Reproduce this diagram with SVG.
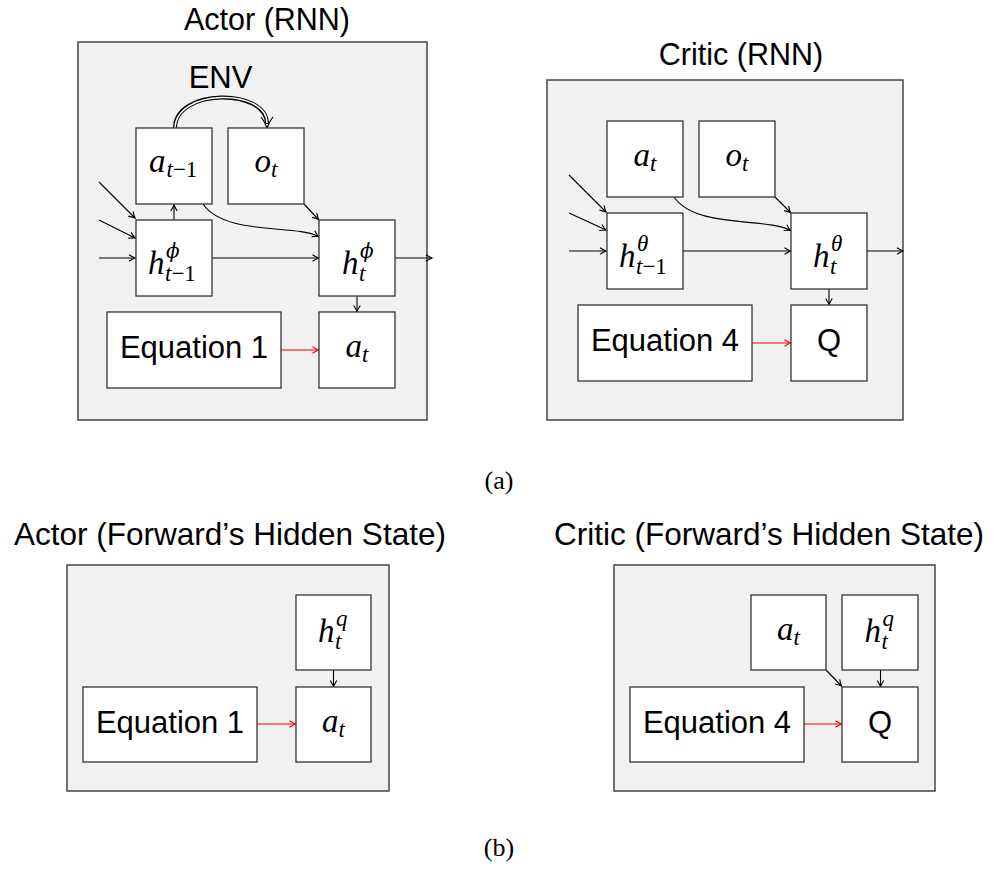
<svg xmlns="http://www.w3.org/2000/svg" width="994" height="871" viewBox="0 0 994 871">
<defs>
<style>
.panel{fill:#f1f1f1;stroke:#444;stroke-width:1.5}
.box{fill:#fff;stroke:#333;stroke-width:1.3}
.title{font-family:"Liberation Sans",Arial,sans-serif;font-size:30.5px;fill:#000;text-anchor:middle}
.ttl2{font-family:"Liberation Sans",Arial,sans-serif;font-size:31.5px;fill:#000;text-anchor:middle}
.lbl{font-family:"Liberation Sans",Arial,sans-serif;font-size:31px;fill:#000;text-anchor:middle}
.cap{font-family:"Liberation Serif","Times New Roman",serif;font-size:26px;fill:#000;text-anchor:middle}
.m{font-family:"Liberation Serif","Times New Roman",serif;font-style:italic;font-size:33px;fill:#000}
.s{font-family:"Liberation Serif","Times New Roman",serif;font-style:italic;font-size:23px;fill:#000}
.g{font-family:"DejaVu Serif","Liberation Serif",serif;font-style:italic;font-size:20px;fill:#000}
.u{font-style:normal}
.ln{fill:none;stroke:#000;stroke-width:1.1;marker-end:url(#arr)}
.red{fill:none;stroke:#f00;stroke-width:1.1;marker-end:url(#arrR)}
</style>
<marker id="arr" markerUnits="userSpaceOnUse" viewBox="-8 -5 10 10" refX="0" refY="0" markerWidth="10" markerHeight="10" orient="auto">
<path d="M-6,-3.3 Q-2,-0.7 0,0 Q-2,0.7 -6,3.3" fill="none" stroke="#000" stroke-width="1.1"/>
</marker>
<marker id="arrR" markerUnits="userSpaceOnUse" viewBox="-8 -5 10 10" refX="0" refY="0" markerWidth="10" markerHeight="10" orient="auto">
<path d="M-6,-3.3 Q-2,-0.7 0,0 Q-2,0.7 -6,3.3" fill="none" stroke="#f00" stroke-width="1.1"/>
</marker>
</defs>
<rect width="994" height="871" fill="#fff"/>

<!-- Titles -->
<text class="title" x="267" y="30">Actor (RNN)</text>
<text class="title" x="741" y="65">Critic (RNN)</text>
<text class="cap" x="499" y="489">(a)</text>
<text class="ttl2" x="230" y="545">Actor (Forward’s Hidden State)</text>
<text class="ttl2" x="769" y="545">Critic (Forward’s Hidden State)</text>
<text class="cap" x="499" y="856">(b)</text>

<!-- Panels -->
<rect id="panel-actor-rnn" class="panel" x="78" y="42" width="349" height="378"/>
<rect id="panel-critic-rnn" class="panel" x="547" y="80" width="356" height="340"/>
<rect id="panel-actor-fwd" class="panel" x="67" y="565" width="322" height="226"/>
<rect id="panel-critic-fwd" class="panel" x="614" y="565" width="321" height="226"/>

<text class="lbl" x="220.5" y="88">ENV</text>

<!-- Connectors -->
<g id="connectors">
<!-- ENV double arrow -->
<path d="M175,128 C175,88 267,88 267,124" fill="none" stroke="#000" stroke-width="4"/>
<path d="M175,129 C175,88 267,88 267,123" fill="none" stroke="#fff" stroke-width="1.6"/>
<path d="M261,117 Q265,122 267,128 Q269,122 273,117" fill="none" stroke="#000" stroke-width="1.2"/>

<!-- Actor RNN -->
<path class="ln" d="M99,182 L135,218"/>
<path class="ln" d="M99,220 L135,238"/>
<path class="ln" d="M99,258 L135,258"/>
<path class="ln" d="M174,220 L174,205"/>
<path class="ln" d="M203,204 C225,236 295,224 318.5,236.5"/>
<path class="ln" d="M304,204 L318.5,219.5"/>
<path class="ln" d="M212,258 L318.5,258"/>
<path class="ln" d="M395,258 L432,258"/>
<path class="ln" d="M357,296 L357,311.5"/>
<path class="red" d="M281,350 L318.5,350"/>

<!-- Critic RNN -->
<path class="ln" d="M569,175 L606,212"/>
<path class="ln" d="M569,213 L606,230"/>
<path class="ln" d="M569,251 L606,251"/>
<path class="ln" d="M674,197 C696,229 766,217 790.5,230.5"/>
<path class="ln" d="M775,197 L790.5,212.5"/>
<path class="ln" d="M683,251 L790.5,251"/>
<path class="ln" d="M867,251 L903,251"/>
<path class="ln" d="M829,289 L829,304.5"/>
<path class="red" d="M752,343 L790.5,343"/>

<!-- Actor forward -->
<path class="ln" d="M333.5,670 L333.5,686.5"/>
<path class="red" d="M257,724 L295.5,724"/>

<!-- Critic forward -->
<path class="ln" d="M826,670 L841.5,686"/>
<path class="ln" d="M880.5,670 L880.5,686.5"/>
<path class="red" d="M804,724 L841.5,724"/>
</g>

<!-- Actor RNN nodes -->
<g id="actor-a-tm1">
<rect class="box" x="136" y="128" width="76" height="76"/>
<text class="m" x="149" y="172">a</text><text class="s" x="166.5" y="177">t<tspan class="u">−1</tspan></text>
</g>
<g id="actor-o-t">
<rect class="box" x="228" y="128" width="76" height="76"/>
<text class="m" x="254.5" y="172">o</text><text class="s" x="271" y="177">t</text>
</g>
<g id="actor-h-tm1">
<rect class="box" x="136" y="220" width="76" height="76"/>
<text class="m" x="148" y="274">h</text><text class="g" x="166" y="258">ϕ</text><text class="s" x="165" y="281">t<tspan class="u">−1</tspan></text>
</g>
<g id="actor-h-t">
<rect class="box" x="319" y="220" width="76" height="76"/>
<text class="m" x="342" y="274">h</text><text class="g" x="360" y="258">ϕ</text><text class="s" x="359" y="281">t</text>
</g>
<g id="actor-eq1">
<rect class="box" x="107" y="312" width="174" height="76"/>
<text class="lbl" x="194" y="358">Equation 1</text>
</g>
<g id="actor-a-t">
<rect class="box" x="319" y="312" width="76" height="76"/>
<text class="m" x="345.5" y="357">a</text><text class="s" x="362" y="361.5">t</text>
</g>

<!-- Critic RNN nodes -->
<g id="critic-a-t">
<rect class="box" x="607" y="121" width="76" height="76"/>
<text class="m" x="633.5" y="166">a</text><text class="s" x="650" y="170.5">t</text>
</g>
<g id="critic-o-t">
<rect class="box" x="699" y="121" width="76" height="76"/>
<text class="m" x="725.5" y="166">o</text><text class="s" x="742" y="170.5">t</text>
</g>
<g id="critic-h-tm1">
<rect class="box" x="607" y="213" width="76" height="76"/>
<text class="m" x="619" y="267">h</text><text class="s" x="637" y="251">θ</text><text class="s" x="636" y="274">t<tspan class="u">−1</tspan></text>
</g>
<g id="critic-h-t">
<rect class="box" x="791" y="213" width="76" height="76"/>
<text class="m" x="813" y="267">h</text><text class="s" x="831" y="251">θ</text><text class="s" x="830" y="274">t</text>
</g>
<g id="critic-eq4">
<rect class="box" x="578" y="305" width="174" height="76"/>
<text class="lbl" x="665" y="351">Equation 4</text>
</g>
<g id="critic-q">
<rect class="box" x="791" y="305" width="76" height="76"/>
<text class="lbl" x="829" y="351">Q</text>
</g>

<!-- Actor forward nodes -->
<g id="actorf-h-t">
<rect class="box" x="296" y="595" width="75" height="75"/>
<text class="m" x="318" y="642">h</text><text class="s" x="336" y="626">q</text><text class="s" x="335" y="649">t</text>
</g>
<g id="actorf-eq1">
<rect class="box" x="83" y="687" width="174" height="75"/>
<text class="lbl" x="170" y="733">Equation 1</text>
</g>
<g id="actorf-a-t">
<rect class="box" x="296" y="687" width="75" height="75"/>
<text class="m" x="322" y="732">a</text><text class="s" x="338.5" y="736.5">t</text>
</g>

<!-- Critic forward nodes -->
<g id="criticf-a-t">
<rect class="box" x="751" y="595" width="75" height="75"/>
<text class="m" x="777" y="640">a</text><text class="s" x="793.5" y="644.5">t</text>
</g>
<g id="criticf-h-t">
<rect class="box" x="842" y="595" width="76" height="75"/>
<text class="m" x="864.5" y="642">h</text><text class="s" x="882.5" y="626">q</text><text class="s" x="881.5" y="649">t</text>
</g>
<g id="criticf-eq4">
<rect class="box" x="630" y="687" width="174" height="75"/>
<text class="lbl" x="717" y="733">Equation 4</text>
</g>
<g id="criticf-q">
<rect class="box" x="842" y="687" width="76" height="75"/>
<text class="lbl" x="880" y="733">Q</text>
</g>
</svg>
